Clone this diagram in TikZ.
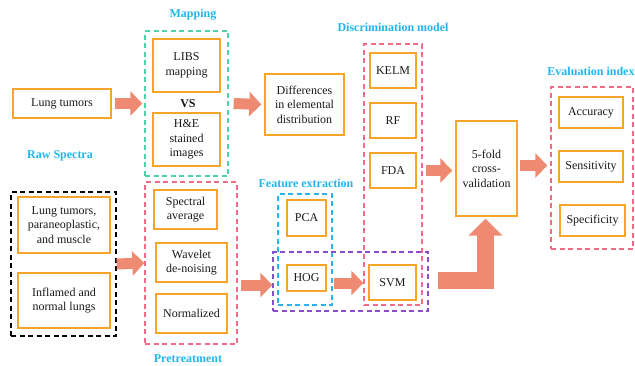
\documentclass[tikz,border=0pt]{standalone}
\usepackage{fontspec}
\setmainfont{Liberation Serif}
\usepackage{tikz}
\usetikzlibrary{positioning, arrows.meta, calc}
\definecolor{Box_Orange}{HTML}{F7A428}
\definecolor{Arrow_Salmon}{HTML}{EE8A72}
\definecolor{Title_Cyan}{HTML}{22B4EE}
\definecolor{Dash_Green}{HTML}{4FD3A0}
\definecolor{Dash_Pink}{HTML}{F26C86}
\definecolor{Dash_Cyan}{HTML}{2AB4EC}
\definecolor{Dash_Purple}{HTML}{8A4CC9}

\begin{document}
\begin{tikzpicture}[x=1pt, y=-1pt,
  every node/.style={font=\fontsize{12}{14.5}\selectfont, align=center, text=black!90},
  item/.style={draw=Box_Orange, line width=1.4pt, inner sep=0pt},
  group/.style={dash pattern=on 5pt off 3.5pt, line width=1.3pt, inner sep=0pt},
  title/.style={text=Title_Cyan, font=\bfseries\fontsize{12}{14}\selectfont},
  fat/.style={draw=Arrow_Salmon, line width=11pt, -{Triangle[length=12pt, width=24pt]}}]
  \useasboundingbox (0,0) rectangle (635,365);
  % Titles
  \node[title] (tmap) at (193,15) {Mapping};
  \node[title] (tdisc) at (393,27) {Discrimination model};
  \node[title] (teval) at (591,71) {Evaluation index};
  \node[title] (traw) at (60,156) {Raw Spectra};
  \node[title] (tfeat) at (306,183) {Feature extraction};
  \node[title] (tpre) at (188,359) {Pretreatment};
  % Mapping branch
  \node[item, minimum width=98pt, minimum height=29pt] (lung) at (62,103.5) {Lung tumors};
  \node[group, draw=Dash_Green, minimum width=83pt, minimum height=145pt] (map) at (186.5,103.5) {};
  \node[item, minimum width=67pt, minimum height=53pt] (libs) at (186.5,65.5) {LIBS\\mapping};
  \node[font=\bfseries\fontsize{12}{14}\selectfont] (vs) at (188,104) {VS};
  \node[item, minimum width=67pt, minimum height=53pt] (he) at (186.5,139.5) {H\&E\\stained\\images};
  \node[item, minimum width=79pt, minimum height=61pt] (diff) at (304.5,104.5) {Differences\\in elemental\\distribution};
  % Raw spectra
  \node[group, draw=black, minimum width=105pt, minimum height=144pt] (raw) at (63.5,264) {};
  \node[item, minimum width=92pt, minimum height=56pt] (ltp) at (64,225) {Lung tumors,\\paraneoplastic,\\and muscle};
  \node[item, minimum width=92pt, minimum height=55pt] (inf) at (64,300.5) {Inflamed and\\normal lungs};
  % Pretreatment
  \node[group, draw=Dash_Pink, minimum width=92pt, minimum height=162pt] (pre) at (191,263) {};
  \node[item, minimum width=63pt, minimum height=39pt] (savg) at (185.5,209.5) {Spectral\\average};
  \node[item, minimum width=71pt, minimum height=39pt] (wav) at (191.5,262.5) {Wavelet\\de-noising};
  \node[item, minimum width=71pt, minimum height=39pt] (norm) at (191.5,313.5) {Normalized};
  % Feature extraction
  \node[group, draw=Dash_Cyan, minimum width=54pt, minimum height=111pt] (feat) at (305,249.5) {};
  \node[item, minimum width=39pt, minimum height=36pt] (pca) at (306.5,218) {PCA};
  \node[item, minimum width=39pt, minimum height=26pt] (hog) at (306.5,278) {HOG};
  % Discrimination model
  \node[group, draw=Dash_Pink, minimum width=58pt, minimum height=261pt] (disc) at (393,174.5) {};
  \node[item, minimum width=46pt, minimum height=35pt] (kelm) at (393,70.5) {KELM};
  \node[item, minimum width=46pt, minimum height=35pt] (rf) at (393,120.5) {RF};
  \node[item, minimum width=46pt, minimum height=35pt] (fda) at (393,170.5) {FDA};
  \node[item, minimum width=47pt, minimum height=35pt] (svm) at (392.5,282.5) {SVM};
  \node[group, draw=Dash_Purple, minimum width=155pt, minimum height=59pt] (pair) at (350.5,281.5) {};
  % Cross-validation and evaluation
  \node[item, minimum width=61pt, minimum height=95pt] (cv) at (486.5,168.5) {5-fold\\cross-\\validation};
  \node[group, draw=Dash_Pink, minimum width=82pt, minimum height=162pt] (eval) at (592,168) {};
  \node[item, minimum width=64pt, minimum height=31pt] (acc) at (591,112.5) {Accuracy};
  \node[item, minimum width=64pt, minimum height=31pt] (sens) at (591,166.5) {Sensitivity};
  \node[item, minimum width=65pt, minimum height=31pt] (spec) at (592.5,220.5) {Specificity};
  % Arrows
  \draw[fat] ([xshift=3pt]lung.east) -- ([xshift=-2pt]map.west);
  \draw[fat] ([xshift=5pt]map.east) -- ([xshift=-3pt]diff.west);
  \draw[fat] (raw.east) -- (pre.west);
  \draw[fat] ([xshift=3pt,yshift=-7pt]pre.east |- hog.west) -- ([yshift=-7pt]hog.west -| pair.west);
  \draw[fat] ([xshift=1pt,yshift=-5pt]hog.east -| feat.east) -- ([yshift=-5pt]hog.east -| disc.west);
  \draw[fat] ([xshift=3pt]fda.east -| disc.east) -- ([xshift=-3pt]fda.east -| cv.west);
  \draw[fat] ([xshift=2pt,yshift=3pt]cv.east) -- ([xshift=-3pt,yshift=3pt]cv.east -| eval.west);
  % Big arrow from SVM to cross-validation
  \coordinate (lstart) at (438,280);
  \draw[draw=Arrow_Salmon, line width=17pt, line join=miter, -{Triangle[length=17pt, width=33pt]}]
    (lstart) -| ([xshift=-1pt,yshift=-2pt]cv.south);
\end{tikzpicture}
\end{document}
